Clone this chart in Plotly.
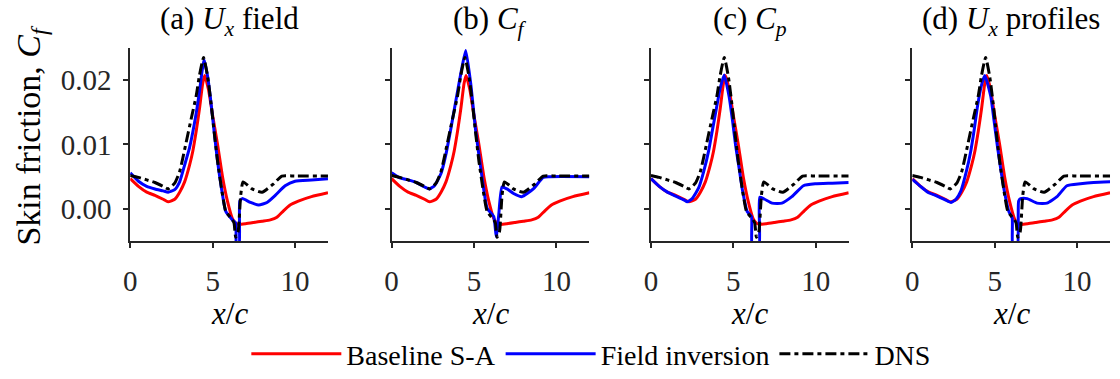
import plotly.graph_objects as go

W, H = 1120, 379

panel_titles = ["(a) <i>U</i><sub><i>x</i></sub> field",
                "(b) <i>C</i><sub><i>f</i></sub>",
                "(c) <i>C</i><sub><i>p</i></sub>",
                "(d) <i>U</i><sub><i>x</i></sub> profiles"]
series_names = ["Baseline S-A", "Field inversion", "DNS"]
x_ticks = [0, 5, 10]
y_ticks = [0.0, 0.01, 0.02]
y_tick_labels = ["0.00", "0.01", "0.02"]

# Baseline S-A (same in all panels)
base_x = [0, 0.5, 1.0, 1.5, 2.0, 2.3, 2.7, 3.0, 3.3, 3.6, 3.8, 4.0, 4.2, 4.4, 4.52, 4.75, 5.0,
          5.3, 5.6, 5.9, 6.2, 6.4, 6.6, 7.0, 7.5, 8.0, 8.5, 8.9, 9.3, 9.7, 10.2, 11.0, 12.0]
base_y = [0.0047, 0.0035, 0.0026, 0.0021, 0.0015, 0.0011, 0.0015, 0.0026, 0.0042, 0.0068,
          0.0090, 0.0120, 0.0155, 0.0195, 0.0207, 0.0185, 0.0145, 0.0100, 0.0050, 0.0012,
          -0.0015, -0.0022, -0.0024, -0.0023, -0.0021, -0.0019, -0.0017, -0.0013, -0.0003,
          0.0006, 0.0012, 0.0019, 0.0025]

# DNS (same in all panels)
dns_x = [0, 0.5, 1.0, 1.5, 2.0, 2.3, 2.7, 3.0, 3.35, 3.7, 4.0, 4.2, 4.45, 4.7, 4.9, 5.1, 5.3,
         5.6, 5.8, 6.2, 6.3, 6.4, 6.55, 6.7, 6.85, 7.4, 8.0, 8.7, 9.2, 10.0, 12.0]
dns_y = [0.0052, 0.0049, 0.0045, 0.0041, 0.0035, 0.0031, 0.0040, 0.0058, 0.0098, 0.0140,
         0.0175, 0.0207, 0.0235, 0.0205, 0.0165, 0.0118, 0.0074, 0.0022, -0.0004, -0.0017,
         -0.0022, -0.0044, -0.0035, 0.0020, 0.0042, 0.0031, 0.0026, 0.0039, 0.0051, 0.0051,
         0.0051]

# Field inversion, one per panel
fi_a_x = [0, 0.5, 1.0, 1.5, 2.0, 2.3, 2.7, 3.0, 3.3, 3.6, 4.0, 4.2, 4.35, 4.48, 4.7, 4.9, 5.1,
          5.3, 5.6, 5.8, 6.2, 6.4, 6.45, 6.6, 6.65, 6.8, 7.3, 7.8, 8.3, 8.8, 9.4, 10.0, 11.0, 12.0]
fi_a_y = [0.0056, 0.0043, 0.0035, 0.0031, 0.0028, 0.0026, 0.0030, 0.0042, 0.0068, 0.0095,
          0.0148, 0.0182, 0.0212, 0.0232, 0.0205, 0.0165, 0.0118, 0.0074, 0.0022, -0.0004,
          -0.0017, -0.0022, -0.0060, -0.0060, 0.0012, 0.0016, 0.0010, 0.0006, 0.0010, 0.0021,
          0.0036, 0.0043, 0.0045, 0.0047]

fi_b_x = [0, 0.5, 1.0, 1.5, 2.0, 2.3, 2.6, 3.0, 3.3, 3.6, 3.9, 4.2, 4.5, 4.8, 5.1, 5.5, 5.8,
          6.2, 6.35, 6.5, 6.7, 7.0, 7.4, 7.9, 8.6, 9.2, 9.6, 12.0]
fi_b_y = [0.0056, 0.0048, 0.0045, 0.0041, 0.0034, 0.0031, 0.0036, 0.0055, 0.0085, 0.0125,
          0.0168, 0.0210, 0.0246, 0.0195, 0.0122, 0.0047, 0.0001, -0.0012, -0.0043, -0.0010,
          0.0034, 0.0031, 0.0024, 0.0019, 0.0031, 0.0049, 0.0050, 0.0050]

fi_c_x = [0, 0.5, 1.0, 1.5, 2.0, 2.2, 2.5, 2.9, 3.2, 3.5, 3.75, 4.0, 4.2, 4.44, 4.74, 4.95,
          5.14, 5.35, 5.54, 5.84, 6.1, 6.15, 6.55, 6.6, 6.9, 7.35, 7.95, 8.55, 9.25, 9.96,
          11.0, 12.0]
fi_c_y = [0.0047, 0.0035, 0.0026, 0.0020, 0.0014, 0.0011, 0.0016, 0.0033, 0.0058, 0.0090,
          0.0125, 0.0160, 0.0187, 0.0208, 0.0175, 0.0137, 0.0098, 0.0063, 0.0031, -0.0004,
          -0.0012, -0.0060, -0.0060, 0.0018, 0.0015, 0.0009, 0.0009, 0.0019, 0.0036, 0.0039,
          0.0040, 0.0041]

fi_d_x = [0, 0.5, 0.94, 1.5, 2.0, 2.35, 2.65, 2.95, 3.25, 3.55, 3.75, 3.96, 4.2, 4.4, 4.76,
          4.96, 5.16, 5.36, 5.56, 5.86, 6.06, 6.1, 6.37, 6.45, 6.57, 6.97, 7.57, 8.17, 8.78,
          9.38, 10.2, 11.0, 12.0]
fi_d_y = [0.0046, 0.0035, 0.0026, 0.0020, 0.0014, 0.0010, 0.0015, 0.0028, 0.0055, 0.0090,
          0.0122, 0.0160, 0.0192, 0.0207, 0.0175, 0.0137, 0.0098, 0.0063, 0.0031, -0.0004,
          -0.0014, -0.0060, -0.0060, 0.0012, 0.0016, 0.0016, 0.0009, 0.0009, 0.0019, 0.0036,
          0.0039, 0.0041, 0.0042]

fi_x = [fi_a_x, fi_b_x, fi_c_x, fi_d_x]
fi_y = [fi_a_y, fi_b_y, fi_c_y, fi_d_y]

FONT = "Liberation Serif, serif"
AX = "#262626"
left_px = [124, 387, 648, 911]
plot_w = 199
top_px, bot_px = 49, 247

fig = go.Figure()
for i in range(4):
    xa = "x" if i == 0 else f"x{i+1}"
    ya = "y" if i == 0 else f"y{i+1}"
    fig.add_trace(go.Scatter(x=base_x, y=base_y, mode="lines", xaxis=xa, yaxis=ya,
                             name=series_names[0], showlegend=(i == 0), legendgroup="b",
                             line=dict(color="#ff0000", width=3, shape="spline", smoothing=0.5)))
    fig.add_trace(go.Scatter(x=fi_x[i], y=fi_y[i], mode="lines", xaxis=xa, yaxis=ya,
                             name=series_names[1], showlegend=(i == 0), legendgroup="f",
                             line=dict(color="#0000ff", width=3, shape="spline", smoothing=0.5)))
    fig.add_trace(go.Scatter(x=dns_x, y=dns_y, mode="lines", xaxis=xa, yaxis=ya,
                             name=series_names[2], showlegend=(i == 0), legendgroup="d",
                             line=dict(color="#000000", width=3, dash="11px,4px,4px,4px",
                                       shape="spline", smoothing=0.5)))

layout = dict(
    width=W, height=H, margin=dict(l=0, r=0, t=0, b=0),
    paper_bgcolor="white", plot_bgcolor="white",
    font=dict(family=FONT, size=28, color="#000000"),
    showlegend=True,
    legend=dict(orientation="h", x=0.525, xanchor="center", y=1 - 363 / H, yanchor="middle",
                font=dict(family=FONT, size=28, color="#000000"), itemwidth=90,
                bgcolor="rgba(0,0,0,0)", tracegroupgap=0),
)
annotations = []
for i in range(4):
    sfx = "" if i == 0 else str(i + 1)
    x0 = left_px[i] / W
    x1 = (left_px[i] + plot_w) / W
    layout["xaxis" + sfx] = dict(
        domain=[x0, x1], range=[0, 12], anchor="y" + sfx,
        tickvals=x_ticks, ticks="outside", ticklen=5, tickwidth=2, tickcolor=AX,
        ticklabelstandoff=8,
        showline=True, linewidth=2, linecolor=AX, showgrid=False, zeroline=False,
        tickfont=dict(family=FONT, size=29, color=AX), fixedrange=True)
    layout["yaxis" + sfx] = dict(
        domain=[1 - bot_px / H, 1 - top_px / H], range=[-0.005, 0.025], anchor="x" + sfx,
        tickvals=y_ticks, ticktext=y_tick_labels, showticklabels=(i == 0),
        ticks="outside", ticklen=5, tickwidth=2, tickcolor=AX, ticklabelstandoff=6,
        showline=True, linewidth=2, linecolor=AX, showgrid=False, zeroline=False,
        tickfont=dict(family=FONT, size=29, color=AX), fixedrange=True)
    cx = (x0 + x1) / 2
    annotations.append(dict(text=panel_titles[i], x=cx, y=1 - 22 / H, xref="paper",
                            yref="paper", showarrow=False, xanchor="center", yanchor="middle",
                            font=dict(family=FONT, size=31, color="#000000")))
    annotations.append(dict(text="<i>x</i>/<i>c</i>", x=cx, y=1 - 321 / H, xref="paper",
                            yref="paper", showarrow=False, xanchor="center", yanchor="middle",
                            font=dict(family=FONT, size=31, color="#000000")))
annotations.append(dict(text="Skin friction, <i>C</i><sub><i>f</i></sub>", x=24 / W,
                        y=1 - 138 / H, xref="paper", yref="paper", showarrow=False,
                        textangle=-90, xanchor="center", yanchor="middle",
                        font=dict(family=FONT, size=34, color="#000000")))
layout["annotations"] = annotations
fig.update_layout(**layout)
fig.write_html("out.html")
